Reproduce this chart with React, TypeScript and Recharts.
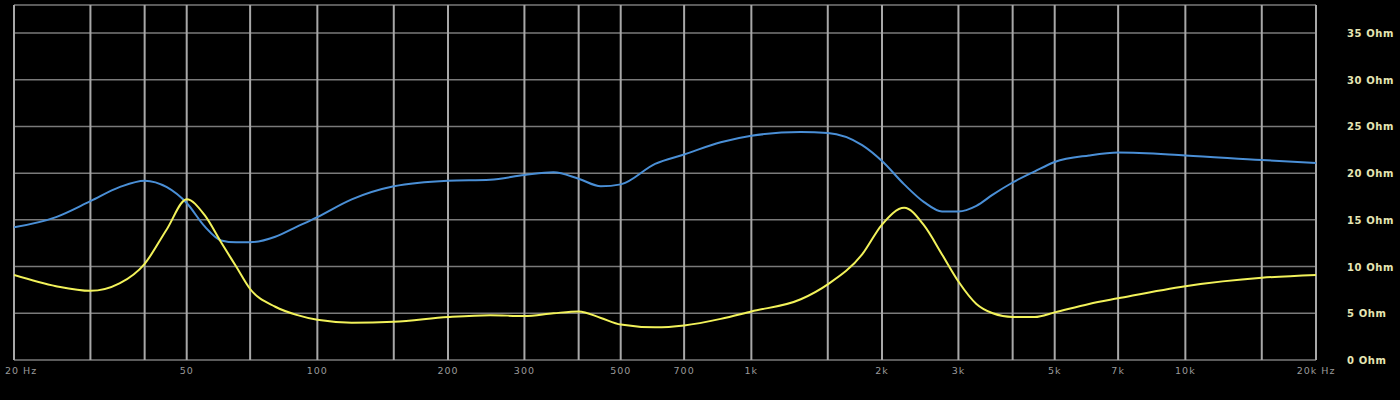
import React from "react";
import { LineChart, Line, XAxis, YAxis, CartesianGrid } from "recharts";

const frequencies = [
  20, 25, 30, 35, 40, 45, 50, 55, 60, 65, 70, 80, 90, 100, 120, 150, 200, 250, 300, 350, 400, 450, 500, 600,
  700, 850, 1000, 1300, 1500, 1800, 2000, 2250, 2500, 2750, 3000, 3300, 3600, 4000, 4500, 5000, 6000, 7000,
  10000, 15000, 20000,
];

const blueImpedance = [
  14.2, 15.3, 17.0, 18.5, 19.2, 18.5, 16.8, 14.3, 12.8, 12.6, 12.6, 13.2, 14.3, 15.3, 17.2, 18.6, 19.2, 19.3, 19.8,
  20.1, 19.4, 18.6, 18.8, 21.0, 22.0, 23.3, 24.0, 24.4, 24.3, 23.0, 21.3, 18.8, 16.9, 15.9, 15.9, 16.5, 17.7, 19.0,
  20.2, 21.2, 21.9, 22.2, 21.9, 21.4, 21.1,
];

const yellowImpedance = [
  9.1, 7.9, 7.4, 8.2, 10.3, 14.0, 17.2, 15.5, 12.6, 10.0, 7.6, 5.7, 4.8, 4.3, 4.0, 4.1, 4.6, 4.8, 4.7, 5.0, 5.2, 4.5,
  3.8, 3.5, 3.7, 4.4, 5.2, 6.5, 8.1, 11.3, 14.5, 16.3, 14.4, 11.3, 8.4, 6.0, 5.0, 4.6, 4.6, 5.1, 6.0, 6.6, 7.9, 8.8,
  9.1,
];

const gridFrequencies = [
  20, 30, 40, 50, 70, 100, 150, 200, 300, 400, 500, 700, 1000, 1500, 2000, 3000, 4000, 5000, 7000, 10000, 15000,
  20000,
];

const frequencyLabels: Record<number, string> = {
  20: "20 Hz",
  50: "50",
  100: "100",
  200: "200",
  300: "300",
  500: "500",
  700: "700",
  1000: "1k",
  2000: "2k",
  3000: "3k",
  5000: "5k",
  7000: "7k",
  10000: "10k",
  20000: "20k Hz",
};

const ohmTicks = [0, 5, 10, 15, 20, 25, 30, 35];

const data = frequencies.map((f, i) => ({ freq: f, blue: blueImpedance[i], yellow: yellowImpedance[i] }));

const XTick = (props: any) => {
  const { x, y, payload } = props;
  const label = frequencyLabels[payload.value];
  if (!label) return null;
  const first = payload.value === 20;
  return (
    <text
      x={first ? x - 9 : x}
      y={y + 12}
      textAnchor={first ? "start" : "middle"}
      fill="#9a9a9a"
      fontSize={9.5}
      letterSpacing={1}
      fontFamily="DejaVu Sans, sans-serif"
    >
      {label}
    </text>
  );
};

const YTick = (props: any) => {
  const { x, y, payload } = props;
  return (
    <text
      x={x}
      y={y + 4}
      textAnchor="start"
      fill="#e6e6b4"
      fontSize={10}
      fontWeight="bold"
      letterSpacing={0.6}
      fontFamily="DejaVu Sans, sans-serif"
    >
      {`${payload.value} Ohm`}
    </text>
  );
};

export default function App() {
  return (
    <div style={{ position: "absolute", left: 0, top: 0, width: 1400, height: 400, background: "#000" }}>
      <LineChart width={1400} height={400} data={data} margin={{ top: 5, right: 0, left: 14, bottom: 0 }}>
        <CartesianGrid horizontal={true} vertical={false} stroke="#7a7a7a" strokeWidth={1.5} />
        <CartesianGrid horizontal={false} vertical={true} stroke="#a8a8a8" strokeWidth={2} />
        <XAxis
          dataKey="freq"
          type="number"
          scale="log"
          domain={[20, 20000]}
          ticks={gridFrequencies}
          interval={0}
          allowDataOverflow
          axisLine={false}
          tickLine={false}
          tickSize={0}
          height={40}
          tick={<XTick />}
        />
        <YAxis
          orientation="right"
          domain={[0, 38]}
          ticks={ohmTicks}
          interval={0}
          allowDataOverflow
          axisLine={false}
          tickLine={false}
          tickSize={0}
          tickMargin={31}
          width={84}
          tick={<YTick />}
        />
        <Line
          type="monotone"
          dataKey="blue"
          stroke="#4a8fd6"
          strokeWidth={2}
          dot={false}
          isAnimationActive={false}
        />
        <Line
          type="monotone"
          dataKey="yellow"
          stroke="#f2f25a"
          strokeWidth={2}
          dot={false}
          isAnimationActive={false}
        />
      </LineChart>
    </div>
  );
}
